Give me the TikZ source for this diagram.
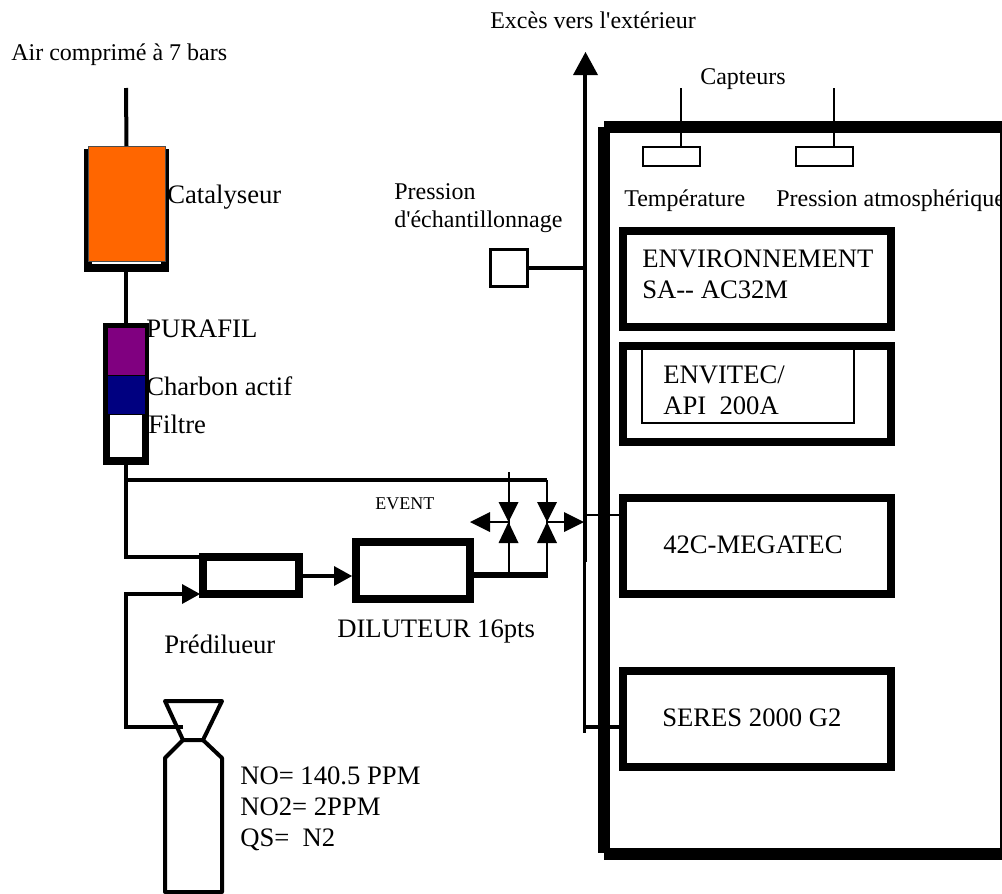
\documentclass[tikz,border=0pt]{standalone}
\usepackage{fontspec}
\setmainfont{Liberation Serif}
\usetikzlibrary{arrows.meta,positioning}
\definecolor{orangecat}{RGB}{255,102,0}
\definecolor{violetpur}{RGB}{128,0,128}
\definecolor{bleuchar}{RGB}{0,0,128}
\tikzset{
	lbl/.style={anchor=west,inner sep=0pt,align=left,font=\fontsize{20}{23.25}\selectfont},
	lblmoy/.style={lbl,font=\fontsize{18}{21}\selectfont},
	boite/.style={draw,line width=6pt,fill=white,inner sep=0pt},
	analyseur/.style={boite,minimum width=201pt,minimum height=72pt},
	capteur/.style={draw,line width=1.5pt,fill=white,minimum width=42.75pt,minimum height=14.25pt,inner sep=0pt},
	tuyau/.style={line width=3pt},
	fin/.style={line width=1.5pt},
	tri/.style={fill=black,draw=none}
}
\begin{document}
\begin{tikzpicture}[x=0.75pt,y=-0.75pt]
	\useasboundingbox (0,0) rectangle (1002,893);
	% ligne d'air
	\coordinate (airhaut) at (126,88);
	\fill (84,149) rectangle (169,272);
	\node[fill=orangecat,draw=black!70,line width=0.5pt,minimum width=57.5pt,minimum height=86.5pt,inner sep=0pt] (cat) at (126.5,204) {};
	\fill[white] (92,262) rectangle (161,264);
	\coordinate (catbas) at (126,272);
	\fill (103,323) rectangle (149,465);
	\coordinate (filthaut) at (126,323);
	\coordinate (filtbas) at (126,465);
	\fill[violetpur] (108,328) rectangle (145,375);
	\fill[bleuchar] (108,376) rectangle (145,414);
	\fill[white] (110,415) rectangle (142,457);
	\draw[tuyau] (airhaut) -- (cat.north);
	\draw[tuyau] (catbas) -- (filthaut);
	% reducteurs
	\node[boite,minimum width=72.4pt,minimum height=28pt] (pre) at (251,575.5) {};
	\node[boite,minimum width=85.5pt,minimum height=42.75pt] (dil) at (413,570.5) {};
	\coordinate (coude) at (126,557);
	\draw[tuyau] (filtbas) -- (coude) -- (pre.west |- coude);
	\draw[tuyau] (126,480) -- (547,480);
	% vannes
	\coordinate (v1) at (508.5,522);
	\coordinate (v2) at (547,522);
	\draw[fin] (508.5,472) -- (v1) -- (508.5,575);
	\draw[fin] (547,480) -- (v2) -- (547,575);
	\draw[fin] (490,522) -- (v1);
	\draw[fin] (v2) -- (564,522);
	\draw[line width=4.5pt] (dil.east |- 0,575) -- (548,575);
	\foreach \vx in {508.5,547}{
		\fill[tri] (\vx-10,502) -- (\vx+10,502) -- (\vx,522) -- cycle;
		\fill[tri] (\vx-10,543) -- (\vx+10,543) -- (\vx,522) -- cycle;
	}
	\fill[tri] (470,522) -- (490,512) -- (490,532) -- cycle;
	\fill[tri] (584,522) -- (564,512) -- (564,532) -- cycle;
	% bouteille
	\draw[line width=3pt,line join=round] (165,701) -- (222,701) -- (203,740) -- (183,740) -- cycle;
	\draw[line width=3pt,line join=round] (183,740) -- (165,758) -- (165,892) -- (222,892) -- (222,758) -- (203,740);
	\coordinate (boutsortie) at (183,727);
	\draw[tuyau] (boutsortie) -- (126,727) -- (126,594) -- (182,594);
	\fill[tri] (200,594) -- (182,584) -- (182,604) -- cycle;
	\draw[tuyau] (pre.east |- 0,576) -- (334,576);
	\fill[tri] (352,576) -- (334,566) -- (334,586) -- cycle;
	% sortie
	\draw[line width=3.5pt] (585,75) -- (585,562);
	\draw[line width=2.5pt] (584.3,562) -- (584.3,733);
	\fill[tri] (585.5,52) -- (573,75) -- (598,75) -- cycle;
	\node[draw,line width=2.25pt,minimum size=27.75pt,inner sep=0pt] (pech) at (509,268) {};
	\draw[tuyau] (pech) -- (585,268);
	% baie
	\fill (598,127) rectangle (610,853);
	\fill (604,121) rectangle (1002,133);
	\fill (604,848) rectangle (1002,860);
	% capteurs
	\draw[line width=1.5pt] (681,88) -- (681,146);
	\draw[line width=1.5pt] (834,88) -- (834,146);
	\node[capteur] (ct) at (671.5,156.5) {};
	\node[capteur] (cp) at (824.5,156.5) {};
	% analyseurs
	\node[analyseur] (env) at (757,279) {};
	\node[analyseur] (api) at (757,394) {};
	\node[analyseur] (meg) at (757,546) {};
	\node[analyseur] (ser) at (757,718.5) {};
	\draw[line width=1pt] (642,346) -- (642,423) -- (854,423) -- (854,346);
	\draw[fin] (587,515) -- (meg.west |- 0,515);
	\draw[line width=3pt] (584,727) -- (ser.west |- 0,727);
	% textes
	\node[lblmoy] (tair) at (11,55) {Air comprimé à 7 bars};
	\node[lblmoy] (tout) at (490,20) {Excès vers l\textquotesingle extérieur};
	\node[lblmoy] (tcap) at (700,79) {Capteurs};
	\node[lbl] (tcat) at (167,197) {Catalyseur};
	\node[lbl] (tpur) at (146,329) {PURAFIL};
	\node[lbl] (tcha) at (146,386) {Charbon actif};
	\node[lbl] (tfil) at (148,424) {Filtre};
	\node[lblmoy] (tpre) at (394,208) {Pression\\d\textquotesingle échantillonnage};
	\node[lblmoy] (ttem) at (624,201) {Température};
	\node[lblmoy] (tatm) at (776,201) {Pression atmosphérique};
	\node[lbl] (tenv) at (642,274) {ENVIRONNEMENT\\SA-{}- AC32M};
	\node[lbl] (tapi) at (663,390) {ENVITEC/\\API\ \ 200A};
	\node[lbl] (tmeg) at (663,545) {42C-MEGATEC};
	\node[lbl] (tser) at (662,718) {SERES 2000 G2};
	\node[lbl,font=\fontsize{13.5}{16}\selectfont] (tevt) at (375,504) {EVENT};
	\node[lbl] (tdil) at (337,631) {DILUTEUR 16pts};
	\node[lbl] (tprd) at (164,644) {Prédilueur};
	\node[lbl] (tbou) at (240,809) {NO= 140.5 PPM\\NO2= 2PPM\\QS=\ \ N2};
	% bord droit par-dessus le texte
	\fill (1000,121) rectangle (1002,860);
\end{tikzpicture}
\end{document}
